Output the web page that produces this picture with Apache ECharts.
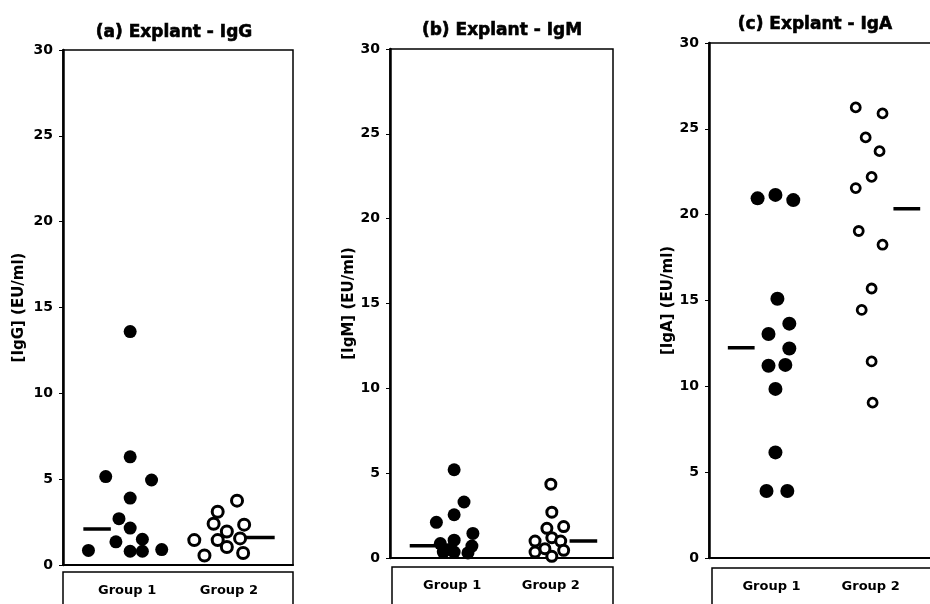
<!DOCTYPE html>
<html>
<head>
<meta charset="utf-8">
<script src="https://cdn.jsdelivr.net/npm/echarts@6/dist/echarts.min.js"></script>
<style>
  html, body { margin: 0; padding: 0; background: #fff; }
  #chart { width: 930px; height: 604px; }
</style>
</head>
<body>
<div id="chart"></div>
<script>
// categories and axis
const groups = ["Group 1", "Group 2"];
const titles = ["(a) Explant - IgG", "(b) Explant - IgM", "(c) Explant - IgA"];
const yNames = ["[IgG] (EU/ml)", "[IgM] (EU/ml)", "[IgA] (EU/ml)"];
const yMax = 30;
const yStep = 5;

// points as [jittered group position, value]
const iggGroup1 = [[1.03, 13.6], [1.03, 6.3], [0.79, 5.15], [1.24, 4.95], [1.03, 3.9], [0.92, 2.7], [1.03, 2.15],
  [0.89, 1.35], [1.15, 1.5], [0.62, 0.85], [1.03, 0.8], [1.15, 0.8], [1.34, 0.9]];
const iggGroup2 = [[2.08, 3.75], [1.89, 3.1], [1.85, 2.4], [2.15, 2.35], [1.98, 1.95], [1.66, 1.45], [1.89, 1.45],
  [2.11, 1.55], [1.98, 1.05], [1.76, 0.55], [2.14, 0.7]];
const igmGroup1 = [[1.02, 5.2], [1.12, 3.3], [1.02, 2.55], [0.84, 2.1], [1.21, 1.45], [1.02, 1.05], [0.88, 0.85],
  [1.2, 0.7], [0.91, 0.35], [1.02, 0.35], [1.16, 0.3], [0.97, 0.5]];
const igmGroup2 = [[2.0, 4.35], [2.01, 2.7], [1.96, 1.75], [2.13, 1.85], [1.84, 1.0], [2.01, 1.2], [2.1, 1.0],
  [1.84, 0.35], [1.94, 0.55], [2.13, 0.45], [2.01, 0.1]];
const igaGroup1 = [[0.86, 20.95], [1.04, 21.15], [1.22, 20.85], [1.06, 15.1], [0.97, 13.05], [1.18, 13.65],
  [1.18, 12.2], [0.97, 11.2], [1.14, 11.25], [1.04, 9.85], [1.04, 6.15], [0.95, 3.9], [1.16, 3.9]];
const igaGroup2 = [[1.85, 26.25], [2.12, 25.9], [1.95, 24.5], [2.09, 23.7], [2.01, 22.2], [1.85, 21.55],
  [1.88, 19.05], [2.12, 18.25], [2.01, 15.7], [1.91, 14.45], [2.01, 11.45], [2.02, 9.05]];

// medians [group 1, group 2] and the span of each median bar along the group axis
const iggMedians = [2.1, 1.6];
const igmMedians = [0.72, 1.0];
const igaMedians = [12.25, 20.35];
const iggMedianSpan = [[0.57, 0.84], [2.11, 2.45]];
const igmMedianSpan = [[0.57, 0.83], [2.19, 2.47]];
const igaMedianSpan = [[0.56, 0.83], [2.23, 2.5]];

const panels = [
  { g1: iggGroup1, g2: iggGroup2, med: iggMedians, span: iggMedianSpan, openSize: 11, openBorder: 3, dot: 13 },
  { g1: igmGroup1, g2: igmGroup2, med: igmMedians, span: igmMedianSpan, openSize: 10, openBorder: 3, dot: 13 },
  { g1: igaGroup1, g2: igaGroup2, med: igaMedians, span: igaMedianSpan, openSize: 9, openBorder: 2.8, dot: 14 },
];

const font = "DejaVu Sans";
const grids = [
  { left: 63, top: 50, width: 230, height: 515 },
  { left: 390, top: 49, width: 223, height: 509 },
  { left: 709, top: 43, width: 235, height: 515 },
];
const xMax = [2.63, 2.63, 2.74];
const titlePos = [[169, 19], [497, 17], [810, 11]];
const nameGaps = [36, 33, 31];
const labelMargins = [19, 21, 22];

const chart = echarts.init(document.getElementById("chart"));

const series = [];
panels.forEach((p, i) => {
  series.push({
    type: "scatter", xAxisIndex: i, yAxisIndex: i, data: p.g1,
    symbolSize: p.dot, itemStyle: { color: "#000", opacity: 1 }, z: 3,
  });
  series.push({
    type: "scatter", xAxisIndex: i, yAxisIndex: i, data: p.g2,
    symbolSize: p.openSize,
    itemStyle: { color: "#fff", borderColor: "#000", borderWidth: p.openBorder, opacity: 1 }, z: 3,
  });
  p.med.forEach((m, k) => {
    series.push({
      type: "line", xAxisIndex: i, yAxisIndex: i, showSymbol: false, z: 2,
      data: [[p.span[k][0], m], [p.span[k][1], m]],
      lineStyle: { color: "#000", width: 3.5 },
    });
  });
});

chart.setOption({
  backgroundColor: "#fff",
  animation: false,
  title: titles.map((t, i) => ({
    text: t, left: titlePos[i][0], top: titlePos[i][1], textAlign: "center",
    textStyle: {
      fontFamily: font, fontWeight: "bold", fontSize: 17, color: "#000",
      textBorderColor: "#000", textBorderWidth: 0.6,
    },
  })),
  grid: grids.map((g) => ({
    ...g, show: true, borderColor: "#000", borderWidth: 1.5, outerBoundsMode: "none",
  })),
  xAxis: grids.map((g, i) => ({
    type: "value", gridIndex: i, min: 0.37, max: xMax[i],
    splitLine: { show: false },
    axisTick: { show: false },
    axisLine: { lineStyle: { color: "#000", width: 2 } },
    axisLabel: {
      customValues: [1, 2],
      formatter: (v) => groups[Math.round(v) - 1],
      margin: labelMargins[i],
      fontFamily: font, fontWeight: "bold", fontSize: 13, color: "#000",
    },
  })),
  yAxis: grids.map((g, i) => ({
    type: "value", gridIndex: i, min: 0, max: yMax, interval: yStep,
    name: yNames[i], nameLocation: "middle", nameGap: nameGaps[i],
    nameTextStyle: { fontFamily: font, fontWeight: "bold", fontSize: 15, color: "#000" },
    splitLine: { show: false },
    axisLine: { show: true, lineStyle: { color: "#000", width: 2.5 } },
    axisTick: { show: true, length: 4, lineStyle: { color: "#000" } },
    axisLabel: { margin: 10, fontFamily: font, fontWeight: "bold", fontSize: 14, color: "#000" },
  })),
  graphic: [
    { type: "rect", shape: { x: 63, y: 572, width: 230, height: 50 }, style: { fill: null, stroke: "#000", lineWidth: 1.5 } },
    { type: "rect", shape: { x: 392, y: 567, width: 221, height: 50 }, style: { fill: null, stroke: "#000", lineWidth: 1.5 } },
    { type: "rect", shape: { x: 712, y: 568, width: 240, height: 50 }, style: { fill: null, stroke: "#000", lineWidth: 1.5 } },
  ],
  series: series,
});
</script>
</body>
</html>
